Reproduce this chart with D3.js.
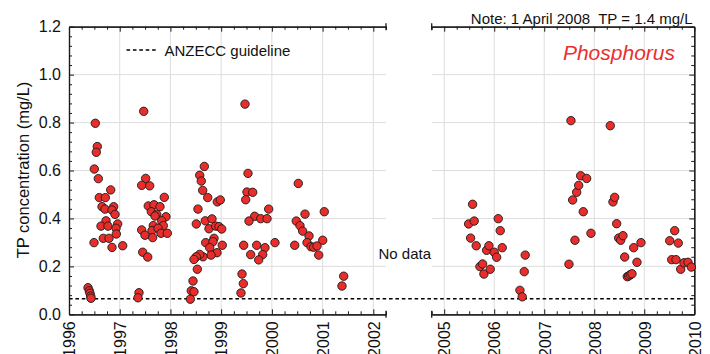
<!DOCTYPE html>
<html>
<head>
<meta charset="utf-8">
<script src="https://cdn.jsdelivr.net/npm/d3@7"></script>
<style>
  html, body { margin: 0; padding: 0; background: #fff; }
  svg { display: block; font-family: Arial, "Liberation Sans", sans-serif; }
</style>
</head>
<body>
<div id="chart"></div>
<script>
// ---------------- data (decimal year, TP mg/L) ----------------
const period1Dates = [
  1996.375, 1996.400, 1996.414, 1996.428, 1996.434,
  1996.493, 1996.519, 1996.558, 1996.538, 1996.499, 1996.578, 1996.822, 1996.597, 1996.716,
  1996.651, 1996.710, 1996.881, 1996.848, 1996.907, 1996.730, 1996.631, 1996.769, 1996.960,
  1996.927, 1996.933, 1996.676, 1996.789, 1996.848, 1997.059,
  1997.473, 1997.512, 1997.433, 1997.591, 1997.879, 1997.563, 1997.676, 1997.794, 1997.623,
  1997.729, 1997.912, 1997.696, 1997.828, 1997.662, 1997.859, 1997.433, 1997.636, 1997.755,
  1997.498, 1997.650, 1997.814, 1997.938, 1997.453, 1997.552, 1997.380, 1997.360,
  1998.668, 1998.577, 1998.608, 1998.636, 1998.735, 1998.543, 1998.924, 1998.983, 1998.510,
  1998.687, 1998.819, 1998.760, 1998.892, 1998.957, 1999.011, 1998.695, 1998.859, 1998.839,
  1998.774, 1999.022, 1998.918, 1998.800, 1998.642, 1998.577, 1998.510, 1998.464, 1998.530,
  1998.445, 1998.411, 1998.464, 1998.392,
  1999.470, 1999.529, 1999.509, 1999.622, 1999.484, 1999.937, 1999.661, 1999.549, 1999.780,
  1999.904, 2000.061, 1999.444, 1999.701, 1999.864, 1999.582, 1999.819, 1999.740, 1999.411,
  1999.437, 1999.391,
  2000.521, 2001.033, 2000.653, 2000.481, 2000.554, 2000.607, 2000.732, 2001.002, 2000.450,
  2000.693, 2000.771, 2000.825, 2000.890, 2000.923, 2001.416, 2001.382
];
const period1TP = [
  0.111, 0.098, 0.088, 0.076, 0.067,
  0.299, 0.797, 0.700, 0.676, 0.606, 0.566, 0.519, 0.487, 0.487,
  0.449, 0.439, 0.449, 0.435, 0.417, 0.390, 0.368, 0.368, 0.377,
  0.359, 0.335, 0.317, 0.317, 0.279, 0.286,
  0.847, 0.567, 0.538, 0.536, 0.488, 0.452, 0.457, 0.449, 0.428,
  0.417, 0.407, 0.410, 0.390, 0.370, 0.370, 0.352, 0.349, 0.359,
  0.330, 0.320, 0.338, 0.338, 0.259, 0.239, 0.090, 0.069,
  0.617, 0.580, 0.556, 0.517, 0.487, 0.439, 0.469, 0.477, 0.377,
  0.390, 0.398, 0.357, 0.368, 0.366, 0.356, 0.299, 0.317, 0.303,
  0.278, 0.288, 0.257, 0.247, 0.240, 0.250, 0.240, 0.229, 0.188,
  0.139, 0.098, 0.094, 0.063,
  0.877, 0.588, 0.510, 0.509, 0.478, 0.439, 0.409, 0.389, 0.399,
  0.399, 0.299, 0.288, 0.288, 0.278, 0.249, 0.249, 0.227, 0.168,
  0.128, 0.089,
  0.546, 0.428, 0.418, 0.389, 0.370, 0.347, 0.327, 0.309, 0.288,
  0.299, 0.282, 0.280, 0.285, 0.247, 0.159, 0.118
];
const period2Dates = [
  2005.568, 2005.488, 2005.600, 2005.528, 2005.640, 2005.714, 2005.768, 2005.794, 2005.848,
  2005.894, 2005.920, 2006.000, 2006.048, 2006.080, 2006.120, 2006.160,
  2006.514, 2006.560, 2006.600, 2006.620,
  2007.494, 2007.534, 2007.568, 2007.614, 2007.648, 2007.688, 2007.728, 2007.780, 2007.848, 2007.934,
  2008.320, 2008.374, 2008.408, 2008.448, 2008.488, 2008.528, 2008.574, 2008.608, 2008.660,
  2008.688, 2008.720, 2008.754, 2008.788, 2008.854, 2008.934,
  2009.508, 2009.608, 2009.680, 2009.548, 2009.634, 2009.728, 2009.794, 2009.874, 2009.940
];
const period2TP = [
  0.459, 0.377, 0.389, 0.318, 0.286, 0.199, 0.210, 0.168, 0.267,
  0.286, 0.188, 0.259, 0.238, 0.399, 0.349, 0.278,
  0.100, 0.073, 0.178, 0.247,
  0.209, 0.808, 0.477, 0.309, 0.509, 0.538, 0.578, 0.428, 0.567, 0.338,
  0.787, 0.469, 0.488, 0.378, 0.318, 0.309, 0.328, 0.239, 0.157,
  0.160, 0.165, 0.169, 0.278, 0.217, 0.299,
  0.307, 0.349, 0.297, 0.228, 0.228, 0.188, 0.215, 0.217, 0.197
];
const anzeccGuideline = 0.065;
const period1YearTicks = ["1996", "1997", "1998", "1999", "2000", "2001", "2002"];
const period2YearTicks = ["2005", "2006", "2007", "2008", "2009", "2010"];
const yTickLabels = ["0.0", "0.2", "0.4", "0.6", "0.8", "1.0", "1.2"];
const yAxisTitle = "TP concentration (mg/L)";
const legendLabel = "ANZECC guideline";
const noteText = "Note: 1 April 2008  TP = 1.4 mg/L";
const analyteTitle = "Phosphorus";
const gapText = "No data";

(function () {
// ---------------- layout ----------------
const W = 710, H = 354;
const plotTop = 26.7, plotBottom = 314.3;
const p1 = { x0: 69, x1: 386, d0: 1996, d1: 2002.25 };
const p2 = { x0: 431.7, x1: 694.3, d0: 2004.75, d1: 2010 };

const svg = d3.select("#chart").append("svg").attr("width", W).attr("height", H);

const y = d3.scaleLinear().domain([0, 1.2]).range([plotBottom, plotTop]);
const x1 = d3.scaleLinear().domain([p1.d0, p1.d1]).range([p1.x0, p1.x1]);
const x2 = d3.scaleLinear().domain([p2.d0, p2.d1]).range([p2.x0, p2.x1]);

const yMajor = yTickLabels.map(Number);
const yMinor = d3.range(0, 1.2001, 0.04).filter(v => !yMajor.some(m => Math.abs(m - v) < 1e-6));
const gridColor = "#dedede";
const axisColor = "#1a1a1a";
const fontFam = "Arial, 'Liberation Sans', sans-serif";

function quarters(d0, d1) {
  const out = [];
  for (let v = Math.ceil(d0 * 4) / 4; v <= d1 + 1e-9; v += 0.25) {
    if (Math.abs(v - Math.round(v)) > 1e-6) out.push(v);
  }
  return out;
}

function grid(x, p, yearLabels) {
  const years = yearLabels.map(Number);
  const g = svg.append("g");
  g.append("g").selectAll("line").data(years.filter(v => v > p.d0 && v < p.d1))
    .join("line")
    .attr("x1", d => x(d)).attr("x2", d => x(d))
    .attr("y1", plotTop).attr("y2", plotBottom)
    .attr("stroke", gridColor).attr("stroke-width", 1);
  g.append("g").selectAll("line").data(yMajor.filter(v => v > 0 && v < 1.2))
    .join("line")
    .attr("x1", p.x0).attr("x2", p.x1)
    .attr("y1", d => y(d)).attr("y2", d => y(d))
    .attr("stroke", gridColor).attr("stroke-width", 1);
}

function axes(x, p, yearLabels, leftAxis, rightAxis) {
  const years = yearLabels.map(Number);
  const g = svg.append("g");
  const style = sel => {
    sel.select(".domain").attr("stroke", axisColor).attr("stroke-width", 1.2);
    sel.selectAll(".tick line").attr("stroke", axisColor).attr("stroke-width", 1);
  };
  g.append("g").attr("transform", `translate(0,${plotBottom})`)
    .call(d3.axisBottom(x).tickValues(quarters(p.d0, p.d1)).tickSize(-3).tickSizeOuter(0).tickFormat(""))
    .call(style);
  const bx = g.append("g").attr("transform", `translate(0,${plotBottom})`)
    .call(d3.axisBottom(x).tickValues(years).tickSize(-5).tickSizeOuter(0).tickFormat((d, i) => yearLabels[i]))
    .call(style);
  bx.selectAll(".tick text")
    .attr("transform", "rotate(-90)")
    .attr("x", -7).attr("y", 0).attr("dy", "0.36em")
    .style("text-anchor", "end")
    .attr("fill", "#111")
    .style("font-size", "16px")
    .style("font-family", fontFam);
  g.append("g").attr("transform", `translate(0,${plotTop})`)
    .call(d3.axisTop(x).tickValues(quarters(p.d0, p.d1)).tickSize(-3).tickSizeOuter(0).tickFormat(""))
    .call(style);
  g.append("g").attr("transform", `translate(0,${plotTop})`)
    .call(d3.axisTop(x).tickValues(years).tickSize(-5).tickSizeOuter(0).tickFormat(""))
    .call(style);
  if (leftAxis) {
    g.append("g").attr("transform", `translate(${p.x0},0)`)
      .call(d3.axisLeft(y).tickValues(yMinor).tickSize(-3).tickSizeOuter(0).tickFormat(""))
      .call(style);
    const ly = g.append("g").attr("transform", `translate(${p.x0},0)`)
      .call(d3.axisLeft(y).tickValues(yMajor).tickSize(-5).tickSizeOuter(0).tickPadding(8)
        .tickFormat((d, i) => yTickLabels[i]))
      .call(style);
    ly.selectAll(".tick text").attr("fill", "#111").style("font-size", "16px")
      .style("font-family", fontFam);
  }
  if (rightAxis) {
    g.append("g").attr("transform", `translate(${p.x1},0)`)
      .call(d3.axisRight(y).tickValues(yMinor).tickSize(-3).tickSizeOuter(0).tickFormat(""))
      .call(style);
    g.append("g").attr("transform", `translate(${p.x1},0)`)
      .call(d3.axisRight(y).tickValues(yMajor).tickSize(-5).tickSizeOuter(0).tickFormat(""))
      .call(style);
  }
  const capX = leftAxis ? p.x1 : p.x0;
  [plotTop, plotBottom].forEach(yy => {
    g.append("line").attr("x1", capX).attr("x2", capX).attr("y1", yy - 3.5).attr("y2", yy + 3.5)
      .attr("stroke", axisColor).attr("stroke-width", 1.3);
  });
}

grid(x1, p1, period1YearTicks);
grid(x2, p2, period2YearTicks);

svg.append("line")
  .attr("x1", p1.x0).attr("x2", p2.x1)
  .attr("y1", y(anzeccGuideline)).attr("y2", y(anzeccGuideline))
  .attr("stroke", "#000").attr("stroke-width", 1.4).attr("stroke-dasharray", "3.6,2.8");

axes(x1, p1, period1YearTicks, true, false);
axes(x2, p2, period2YearTicks, false, true);

const dotFill = "#e82d2b", dotStroke = "#1a1a1a", r = 4.2;
svg.append("g").selectAll("circle").data(period1Dates.map((d, i) => [d, period1TP[i]]))
  .join("circle")
  .attr("cx", d => x1(d[0])).attr("cy", d => y(d[1])).attr("r", r)
  .attr("fill", dotFill).attr("stroke", dotStroke).attr("stroke-width", 0.9);
svg.append("g").selectAll("circle").data(period2Dates.map((d, i) => [d, period2TP[i]]))
  .join("circle")
  .attr("cx", d => x2(d[0])).attr("cy", d => y(d[1])).attr("r", r)
  .attr("fill", dotFill).attr("stroke", dotStroke).attr("stroke-width", 0.9);

svg.append("text")
  .attr("transform", `translate(29,170) rotate(-90)`)
  .attr("text-anchor", "middle")
  .style("font-size", "16.5px").attr("fill", "#111")
  .text(yAxisTitle);

svg.append("line").attr("x1", 126.5).attr("x2", 158.5).attr("y1", 50).attr("y2", 50)
  .attr("stroke", "#000").attr("stroke-width", 1.4).attr("stroke-dasharray", "3.6,2.8");
svg.append("text").attr("x", 164.5).attr("y", 55.5)
  .style("font-size", "15px").attr("fill", "#111").text(legendLabel);

svg.append("text").attr("x", 692.5).attr("y", 24)
  .attr("text-anchor", "end")
  .style("font-size", "15px").style("white-space", "pre").attr("fill", "#111")
  .text(noteText);

svg.append("text").attr("x", 675).attr("y", 60)
  .attr("text-anchor", "end")
  .style("font-size", "21px").style("font-style", "italic").attr("fill", "#e8302e")
  .text(analyteTitle);

svg.append("text").attr("x", 378.5).attr("y", 258.5)
  .style("font-size", "15px").attr("fill", "#111").text(gapText);
})();
</script>
</body>
</html>
